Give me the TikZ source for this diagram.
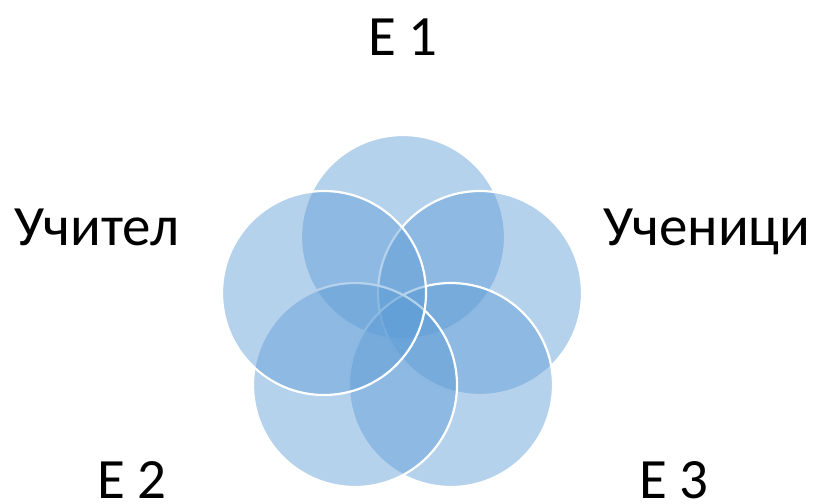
\documentclass[tikz,border=0pt]{standalone}
\usepackage{fontspec}
\setmainfont{Carlito}
\definecolor{petalblue}{RGB}{91,155,213}

\begin{document}
\begin{tikzpicture}[
    x=1pt, y=-1pt,
    petal/.style={
        circle,
        minimum size=204pt,
        inner sep=0pt,
        fill=petalblue,
        fill opacity=0.45,
        draw=white,
        draw opacity=1,
        line width=2.2pt
    },
    lbl/.style={
        anchor=base,
        inner sep=0pt,
        font=\fontsize{57}{62}\selectfont
    },
]
\useasboundingbox (0,0) rectangle (816,503);

% circles, clockwise from the top
\node[petal] (top)    at (403,237) {};
\node[petal] (right)  at (480,293) {};
\node[petal] (botr)   at (451,385) {};
\node[petal] (botl)   at (355,385) {};
\node[petal] (left)   at (324,293) {};

% labels
\node[lbl] (e1)       at (403,56)  {Е 1};
\node[lbl] (students) at (707,245) {Ученици};
\node[lbl] (e3)       at (674,498) {Е 3};
\node[lbl] (e2)       at (132,498) {Е 2};
\node[lbl] (teacher)  at (97,245)  {Учител};

\end{tikzpicture}
\end{document}
